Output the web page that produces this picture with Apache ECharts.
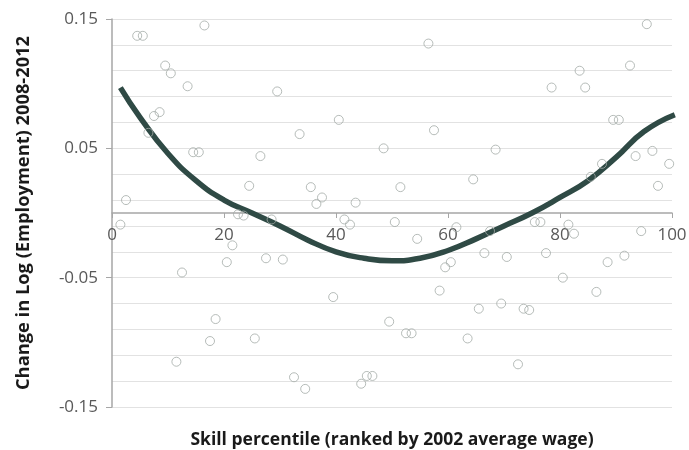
<!DOCTYPE html>
<html>
<head>
<meta charset="utf-8">
<script src="https://cdn.jsdelivr.net/npm/echarts@6/dist/echarts.min.js"></script>
<style>
  html, body { margin: 0; padding: 0; background: #fff; }
  #chart { width: 689px; height: 450px; }
</style>
</head>
<body>
<div id="chart"></div>
<script>
// skill percentile of each occupation (x) and change in log employment (y)
var pctX = [1.5, 2.5, 4.5, 5.5, 6.5, 7.5, 8.5, 9.5, 10.5, 11.5, 12.5, 13.5, 14.5, 15.5, 16.5, 17.5, 18.5,
  20.5, 21.5, 22.5, 23.5, 24.5, 25.5, 26.5, 27.5, 28.5, 29.5, 30.5, 32.5, 33.5, 34.5, 35.5, 36.5, 37.5,
  39.5, 40.5, 41.5, 42.5, 43.5, 44.5, 45.5, 46.5, 48.5, 49.5, 50.5, 51.5, 52.5, 53.5, 54.5, 56.5, 57.5,
  58.5, 59.5, 60.5, 61.5, 63.5, 64.5, 65.5, 66.5, 67.5, 68.5, 69.5, 70.5, 72.5, 73.5, 74.5, 75.5, 76.5,
  77.5, 78.5, 80.5, 81.5, 82.5, 83.5, 84.5, 85.5, 86.5, 87.5, 88.5, 89.5, 90.5, 91.5, 92.5, 93.5, 94.5,
  95.5, 96.5, 97.5, 99.5, 100.5]
var changeY = [-0.009, 0.010, 0.137, 0.137, 0.062, 0.075, 0.078, 0.114, 0.108, -0.115, -0.046, 0.098, 0.047, 0.047, 0.145, -0.099, -0.082,
  -0.038, -0.025, -0.001, -0.002, 0.021, -0.097, 0.044, -0.035, -0.005, 0.094, -0.036, -0.127, 0.061, -0.136, 0.020, 0.007, 0.012,
  -0.065, 0.072, -0.005, -0.009, 0.008, -0.132, -0.126, -0.126, 0.050, -0.084, -0.007, 0.020, -0.093, -0.093, -0.020, 0.131, 0.064,
  -0.060, -0.042, -0.038, -0.011, -0.097, 0.026, -0.074, -0.031, -0.014, 0.049, -0.070, -0.034, -0.117, -0.074, -0.075, -0.007, -0.007,
  -0.031, 0.097, -0.050, -0.009, -0.016, 0.110, 0.097, 0.028, -0.061, 0.038, -0.038, 0.072, 0.072, -0.033, 0.114, 0.044, -0.014,
  0.146, 0.048, 0.021, 0.038, -0.027]

// fitted curve
var fitX = [1.5, 5, 10, 15, 20, 25, 30, 35, 40, 45, 50, 55, 60, 65, 70, 75, 80, 85, 90, 95, 100.5]
var fitY = [0.097, 0.074, 0.046, 0.025, 0.010, 0.000, -0.010, -0.021, -0.030, -0.035, -0.037, -0.035, -0.029, -0.020, -0.010, 0.000, 0.012, 0.025, 0.043, 0.063, 0.076]

var xTicks = [0, 20, 40, 60, 80, 100]
var yTicks = [-0.15, -0.05, 0.05, 0.15]

var labelColor = '#595959'
var axisColor = '#a6a6a6'
var font = 'Open Sans'

var gridTop = 19
var gridBottom = 43
var plotH = 450 - gridTop - gridBottom

var chart = echarts.init(document.getElementById('chart'), null, { renderer: 'canvas' })

var scatterData = pctX.map(function (x, i) { return [x, changeY[i]] })
var fitData = fitX.map(function (x, i) { return [x, fitY[i]] })

var yMin = yTicks[0]
var yMax = yTicks[yTicks.length - 1]

var opt = {
  animation: false,
  grid: { left: 112, right: 17, top: gridTop, bottom: gridBottom, containLabel: false, outerBoundsMode: 'none' },
  xAxis: [
    {
      // horizontal axis drawn through y = 0 (moved up from the bottom edge)
      type: 'value',
      position: 'bottom',
      offset: -plotH * (0 - yMin) / (yMax - yMin),
      min: xTicks[0],
      max: xTicks[xTicks.length - 1],
      interval: 20,
      axisLine: { onZero: false, lineStyle: { color: axisColor, width: 1.5 } },
      axisTick: { show: true, inside: false, length: 5, lineStyle: { color: axisColor } },
      axisLabel: { color: labelColor, fontSize: 17, fontFamily: font, margin: 14 },
      splitLine: { show: false }
    },
    {
      // only carries the axis title at the bottom of the plot
      type: 'value',
      position: 'bottom',
      min: xTicks[0],
      max: xTicks[xTicks.length - 1],
      axisLine: { show: false, onZero: false },
      axisTick: { show: false },
      axisLabel: { show: false },
      splitLine: { show: false },
      name: 'Skill percentile (ranked by 2002 average wage)',
      nameLocation: 'middle',
      nameGap: 24,
      nameTextStyle: { color: '#1a1a1a', fontSize: 17.5, fontWeight: 'bold', fontFamily: font }
    }
  ],
  yAxis: [
    {
      type: 'value',
      min: yMin,
      max: yMax,
      interval: 0.1,
      axisLine: { show: true, onZero: false, lineStyle: { color: axisColor, width: 1.5 } },
      axisTick: { show: true, length: 6, lineStyle: { color: axisColor } },
      axisLabel: {
        color: labelColor, fontSize: 17, fontFamily: font, margin: 14,
        formatter: function (v) { return v.toFixed(2) }
      },
      splitLine: { show: false },
      name: 'Change in Log (Employment) 2008-2012',
      nameLocation: 'middle',
      nameGap: 79,
      nameTextStyle: { color: '#1a1a1a', fontSize: 18.3, fontWeight: 'bold', fontFamily: font }
    },
    {
      // light gridlines every 0.02
      type: 'value',
      position: 'left',
      min: yMin,
      max: yMax,
      interval: 0.02,
      axisLine: { show: false, onZero: false },
      axisTick: { show: false },
      axisLabel: { show: false },
      splitLine: { show: true, lineStyle: { color: '#e2e2e2', width: 1 } }
    }
  ],
  series: [
    {
      type: 'line',
      data: fitData,
      smooth: true,
      showSymbol: false,
      symbol: 'none',
      lineStyle: { color: '#2f4a45', width: 5.5 },
      z: 2
    },
    {
      type: 'scatter',
      data: scatterData,
      symbol: 'circle',
      symbolSize: 9,
      itemStyle: { color: 'rgba(255,255,255,0)', borderColor: '#a4aba8', borderWidth: 1 },
      z: 3
    }
  ]
}

chart.setOption(opt)
</script>
</body>
</html>
